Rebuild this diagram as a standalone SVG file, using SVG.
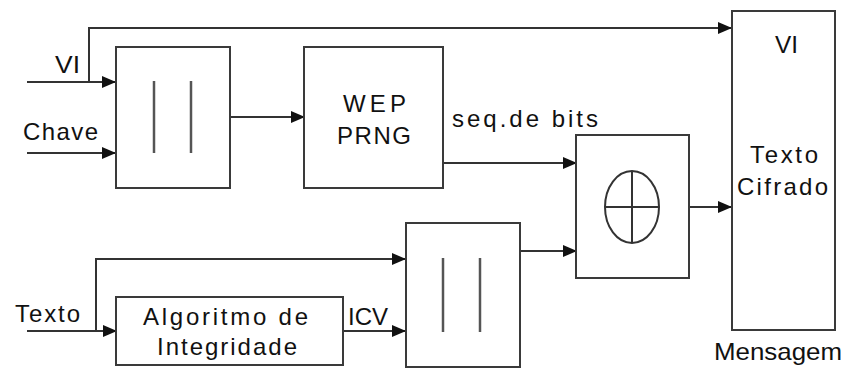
<svg xmlns="http://www.w3.org/2000/svg" width="847" height="368" viewBox="0 0 847 368">
<style>
.box{fill:#fff;stroke:#3a3a3a;stroke-width:2}
.ln{fill:none;stroke:#333;stroke-width:2}
.bar{stroke:#555;stroke-width:2.5}
text{font-family:"Liberation Sans",Arial,sans-serif;font-size:24px;fill:#111}
</style>
<defs>
<marker id="ah" markerWidth="14" markerHeight="12" refX="13" refY="6" orient="auto" markerUnits="userSpaceOnUse">
<path d="M0,0 L14,6 L0,12 Z" fill="#111"/>
</marker>
</defs>
<rect width="847" height="368" fill="#fff"/>
<g id="connectors">
<path class="ln" d="M27,82 H115" marker-end="url(#ah)"/>
<path class="ln" d="M89,82 V28 H731" marker-end="url(#ah)"/>
<path class="ln" d="M27,153 H115" marker-end="url(#ah)"/>
<path class="ln" d="M230,117 H304" marker-end="url(#ah)"/>
<path class="ln" d="M443,163 H576" marker-end="url(#ah)"/>
<path class="ln" d="M520,251 H576" marker-end="url(#ah)"/>
<path class="ln" d="M689,207 H731" marker-end="url(#ah)"/>
<path class="ln" d="M27,331 H116" marker-end="url(#ah)"/>
<path class="ln" d="M96,331 V259 H405" marker-end="url(#ah)"/>
<path class="ln" d="M343,331 H405" marker-end="url(#ah)"/>
</g>
<g id="labels">
<text x="55" y="73" textLength="25" lengthAdjust="spacingAndGlyphs">VI</text>
<text x="23" y="140" textLength="75" lengthAdjust="spacing">Chave</text>
<text x="452" y="127" textLength="146" lengthAdjust="spacing">seq.de bits</text>
<text x="15" y="322" textLength="65" lengthAdjust="spacing">Texto</text>
<text x="348" y="325" textLength="40" lengthAdjust="spacingAndGlyphs">ICV</text>
<text x="714" y="360" textLength="128" lengthAdjust="spacingAndGlyphs">Mensagem</text>
</g>
<g id="concat1">
<rect class="box" x="116" y="47" width="114" height="141"/>
<line class="bar" x1="154" y1="81" x2="154" y2="153"/>
<line class="bar" x1="191" y1="81" x2="191" y2="153"/>
</g>
<g id="wep">
<rect class="box" x="304" y="47" width="139" height="141"/>
<text x="343" y="112" textLength="63" lengthAdjust="spacing">WEP</text>
<text x="337" y="144" textLength="74" lengthAdjust="spacing">PRNG</text>
</g>
<g id="xor">
<rect class="box" x="576" y="135" width="113" height="143"/>
<ellipse cx="632" cy="207" rx="27" ry="36" fill="none" stroke="#333" stroke-width="2"/>
<line class="ln" x1="605" y1="207" x2="659" y2="207"/>
<line class="ln" x1="632" y1="171" x2="632" y2="243"/>
</g>
<g id="mensagem">
<rect class="box" x="732" y="11" width="103" height="319"/>
<text x="775" y="53" textLength="23" lengthAdjust="spacingAndGlyphs">VI</text>
<text x="750" y="163" textLength="68" lengthAdjust="spacing">Texto</text>
<text x="737" y="195" textLength="91" lengthAdjust="spacing">Cifrado</text>
</g>
<g id="algoritmo">
<rect class="box" x="116" y="297" width="227" height="68"/>
<text x="143" y="325" textLength="165" lengthAdjust="spacing">Algoritmo de</text>
<text x="157" y="355" textLength="140" lengthAdjust="spacing">Integridade</text>
</g>
<g id="concat2">
<rect class="box" x="406" y="223" width="114" height="144"/>
<line class="bar" x1="443" y1="258" x2="443" y2="332"/>
<line class="bar" x1="480" y1="258" x2="480" y2="332"/>
</g>
</svg>
